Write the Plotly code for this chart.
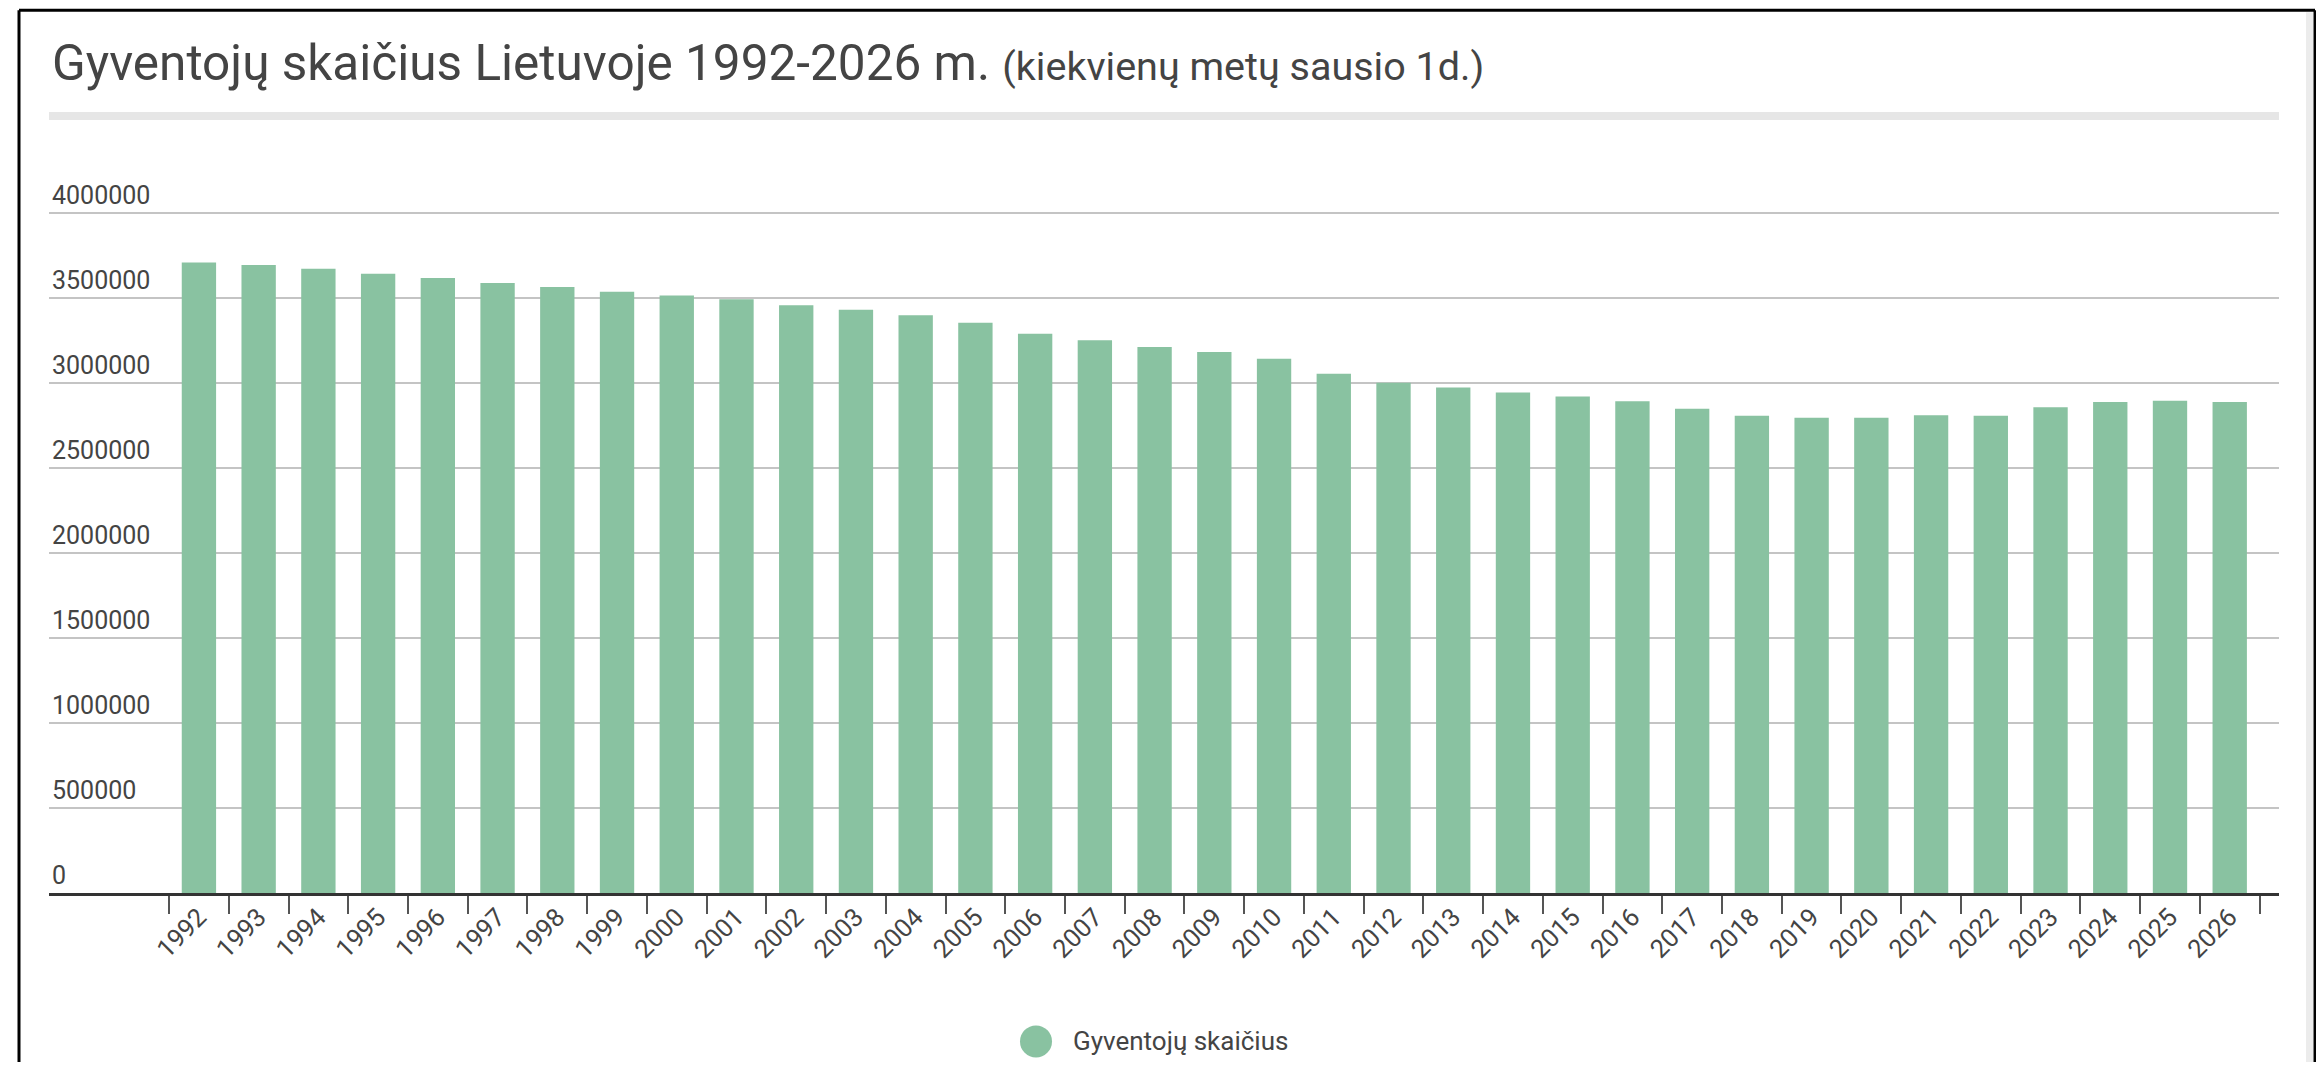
import plotly.graph_objects as go

years = [str(y) for y in range(1992, 2027)]
population = [
    3709000, 3694000, 3672000, 3643000, 3618000, 3588000, 3565000, 3537000,
    3515000, 3492000, 3458000, 3431000, 3398000, 3355000, 3290000, 3251000,
    3212000, 3182000, 3143000, 3055000, 3002000, 2973000, 2944000, 2920000,
    2892000, 2848000, 2807000, 2795000, 2795000, 2811000, 2807000, 2858000,
    2888000, 2896000, 2888000,
]
y_ticks = [0, 500000, 1000000, 1500000, 2000000, 2500000, 3000000, 3500000, 4000000]
series_name = "Gyventojų skaičius"
title_main = "Gyventojų skaičius Lietuvoje 1992-2026 m."
title_sub = "(kiekvienų metų sausio 1d.)"

# page body has an 8px margin; work in window pixels and shift
OFF = 8
W, H = 2324 - 2 * OFF, 1070 - 2 * OFF
Y_MAX = 4200000
L, R = 49 - OFF, 2279 - OFF
B = 893.5 - OFF
T = B - (893.5 - 213) * Y_MAX / 4000000
BAR_COLOR = "#89c2a1"
TEXT = "#444444"


def px(x):
    return (x - OFF - L) / (R - L)


def py(y):
    return (B - (y - OFF)) / (B - T)


fig = go.Figure()
fig.add_trace(go.Bar(
    x=years, y=population, name=series_name,
    marker=dict(color=BAR_COLOR, line=dict(width=0)),
    showlegend=False,
))

fig.update_layout(
    width=W, height=H,
    margin=dict(l=L, r=W - R, t=T, b=H - B, autoexpand=False),
    paper_bgcolor="white", plot_bgcolor="white",
    font=dict(family="Roboto", color=TEXT),
    bargap=0.425,
    title=dict(
        text=f"{title_main} <span style='font-size:39.5px'>{title_sub}</span>",
        font=dict(size=49.5, color=TEXT, family="Roboto"),
        x=(52 - OFF) / W, xref="container", xanchor="left",
        y=1 - (63 - OFF) / H, yref="container", yanchor="middle",
    ),
    xaxis=dict(
        type="category",
        range=[-2.51, 34.825],
        showgrid=False,
        showline=True, linecolor="#333333", linewidth=3,
        ticks="outside", ticklen=18, tickwidth=2, tickcolor="#555555",
        tickson="boundaries",
        tickangle=-45,
        ticklabelstandoff=-4,
        tickfont=dict(size=25.5, color=TEXT),
    ),
    yaxis=dict(
        range=[0, Y_MAX],
        tickvals=y_ticks,
        tickformat="d",
        showgrid=True, gridcolor="#c4c4c4", gridwidth=2,
        zeroline=False, showline=False, ticks="",
        ticklabelposition="inside top",
        tickfont=dict(size=25, color=TEXT),
    ),
    shapes=[
        # grey bar under the title
        dict(type="rect", xref="paper", yref="paper",
             x0=0, x1=1, y0=py(120), y1=py(112),
             fillcolor="#e6e6e6", line=dict(width=0), layer="below"),
        # right light strip
        dict(type="rect", xref="paper", yref="paper",
             x0=px(2306), x1=px(2313), y0=py(1080), y1=py(12),
             fillcolor="#ececec", line=dict(width=0), layer="below"),
        # black frame
        dict(type="line", xref="paper", yref="paper",
             x0=px(19), x1=px(2315), y0=py(10), y1=py(10),
             line=dict(color="black", width=3)),
        dict(type="line", xref="paper", yref="paper",
             x0=px(19), x1=px(19), y0=py(10), y1=py(1080),
             line=dict(color="black", width=3)),
        dict(type="line", xref="paper", yref="paper",
             x0=px(2315), x1=px(2315), y0=py(10), y1=py(1080),
             line=dict(color="black", width=3)),
        # legend marker
        dict(type="circle", xref="paper", yref="paper",
             xsizemode="pixel", ysizemode="pixel",
             xanchor=px(1036), yanchor=py(1042),
             x0=-16, x1=16, y0=-16, y1=16,
             fillcolor=BAR_COLOR, line=dict(width=0)),
    ],
    annotations=[
        dict(text=series_name, xref="paper", yref="paper",
             x=px(1071), y=py(1042), xanchor="left", yanchor="middle",
             showarrow=False, font=dict(size=26, color=TEXT, family="Roboto")),
    ],
)

fig.write_html("out.html")
